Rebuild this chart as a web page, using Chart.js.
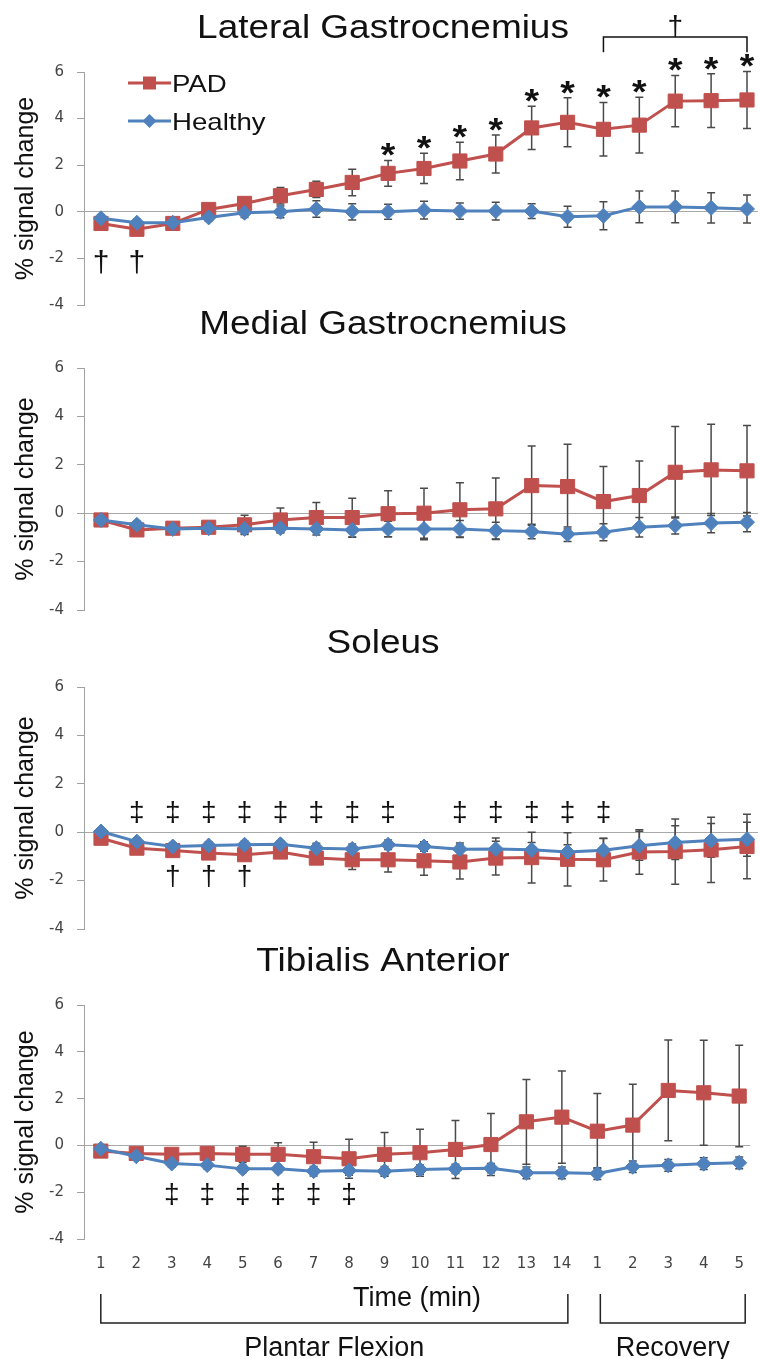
<!DOCTYPE html>
<html>
<head>
<meta charset="utf-8">
<script src="https://cdn.jsdelivr.net/npm/chart.js@4/dist/chart.umd.min.js"></script>
<style>
  html, body { margin: 0; padding: 0; background: #fff; overflow: hidden; }
  #page { position: relative; width: 760px; height: 1359px; }
  #page canvas { position: absolute; left: 0; }
</style>
</head>
<body>
<div id="page">
  <canvas id="lg" width="760" height="340" style="top:0px"></canvas>
  <canvas id="mg" width="760" height="350" style="top:290px"></canvas>
  <canvas id="so" width="760" height="350" style="top:610px"></canvas>
  <canvas id="ta" width="760" height="429" style="top:930px"></canvas>
</div>
<script>
// Categories and ticks
const timeLabels = ['1', '2', '3', '4', '5', '6', '7', '8', '9', '10', '11', '12', '13', '14', '1', '2', '3', '4', '5'];
const phaseNames = ['Plantar Flexion', 'Recovery'];
const phaseLengths = [14, 5];
const seriesNames = ['PAD', 'Healthy'];
const yTicks = [-4, -2, 0, 2, 4, 6];

// Lateral Gastrocnemius
const lgPad = [-0.5, -0.75, -0.5, 0.1, 0.36, 0.69, 0.96, 1.26, 1.65, 1.86, 2.18, 2.48, 3.6, 3.84, 3.54, 3.72, 4.75, 4.77, 4.8];
const lgPadErr = [0.2, 0.2, 0.15, 0.2, 0.25, 0.35, 0.35, 0.57, 0.55, 0.65, 0.8, 0.82, 0.93, 1.05, 1.15, 1.2, 1.1, 1.15, 1.22];
const lgHealthy = [-0.28, -0.47, -0.47, -0.24, -0.04, 0, 0.12, 0, 0, 0.07, 0.03, 0.03, 0.03, -0.21, -0.17, 0.21, 0.21, 0.17, 0.12];
const lgHealthyErr = [0.15, 0.15, 0.15, 0.15, 0.2, 0.25, 0.35, 0.35, 0.32, 0.38, 0.35, 0.38, 0.32, 0.45, 0.6, 0.68, 0.68, 0.65, 0.6];

// Medial Gastrocnemius
const mgPad = [-0.28, -0.69, -0.62, -0.58, -0.48, -0.28, -0.18, -0.18, -0.02, 0.0, 0.14, 0.18, 1.14, 1.1, 0.48, 0.73, 1.69, 1.79, 1.75];
const mgPadErr = [0.15, 0.2, 0.2, 0.2, 0.4, 0.5, 0.62, 0.8, 0.95, 1.03, 1.12, 1.27, 1.64, 1.75, 1.45, 1.43, 1.89, 1.89, 1.87];
const mgHealthy = [-0.28, -0.48, -0.65, -0.62, -0.65, -0.62, -0.65, -0.69, -0.65, -0.65, -0.65, -0.72, -0.76, -0.87, -0.79, -0.58, -0.51, -0.41, -0.37];
const mgHealthyErr = [0.1, 0.15, 0.15, 0.15, 0.2, 0.2, 0.25, 0.3, 0.32, 0.45, 0.35, 0.35, 0.3, 0.3, 0.35, 0.4, 0.35, 0.4, 0.4];

// Soleus
const soPad = [-0.25, -0.66, -0.76, -0.86, -0.93, -0.82, -1.07, -1.14, -1.14, -1.18, -1.23, -1.07, -1.05, -1.12, -1.14, -0.82, -0.8, -0.73, -0.59];
const soPadErr = [0.1, 0.15, 0.15, 0.15, 0.2, 0.2, 0.25, 0.4, 0.5, 0.6, 0.7, 0.7, 1.05, 1.1, 0.88, 0.92, 1.35, 1.35, 1.33];
const soHealthy = [0.03, -0.39, -0.59, -0.55, -0.52, -0.5, -0.66, -0.69, -0.52, -0.59, -0.7, -0.69, -0.73, -0.82, -0.75, -0.56, -0.43, -0.34, -0.29];
const soHealthyErr = [0.1, 0.15, 0.15, 0.15, 0.15, 0.15, 0.2, 0.2, 0.2, 0.2, 0.25, 0.45, 0.3, 0.3, 0.5, 0.6, 0.7, 0.7, 0.7];

// Tibialis Anterior
const taPad = [-0.24, -0.34, -0.38, -0.34, -0.38, -0.38, -0.48, -0.57, -0.38, -0.31, -0.17, 0.04, 1.01, 1.21, 0.61, 0.87, 2.35, 2.25, 2.11];
const taPadErr = [0.1, 0.15, 0.2, 0.25, 0.35, 0.5, 0.62, 0.83, 0.93, 1.0, 1.24, 1.32, 1.81, 1.97, 1.61, 1.74, 2.15, 2.24, 2.17];
const taHealthy = [-0.14, -0.46, -0.77, -0.84, -1.0, -1.0, -1.1, -1.07, -1.1, -1.03, -1.0, -0.97, -1.17, -1.17, -1.2, -0.91, -0.85, -0.78, -0.74];
const taHealthyErr = [0.1, 0.1, 0.15, 0.15, 0.15, 0.15, 0.2, 0.2, 0.2, 0.2, 0.2, 0.2, 0.25, 0.25, 0.25, 0.25, 0.25, 0.25, 0.25];

// Significance marks (indices into timeLabels)
const lgStarIdx = [8, 9, 10, 11, 12, 13, 14, 15, 16, 17, 18];
const lgDaggerIdx = [0, 1];
const lgRecoveryIdx = [14, 18];
const soDoubleDaggerIdx = [1, 2, 3, 4, 5, 6, 7, 8, 10, 11, 12, 13, 14];
const soDaggerIdx = [2, 3, 4];
const taDoubleDaggerIdx = [2, 3, 4, 5, 6, 7];

const RED = '#C0504D';
const BLUE = '#4F81BD';
const BAR = '#4a4a4a';
const INK = '#111';
const SANS = '"Liberation Sans", Arial, sans-serif';

function stretched(ctx, text, x, y, font, sx, align) {
    ctx.save();
    ctx.font = font;
    ctx.fillStyle = INK;
    ctx.textAlign = align;
    ctx.textBaseline = 'alphabetic';
    ctx.translate(x, y);
    ctx.scale(sx, 1);
    ctx.fillText(text, 0, 0);
    ctx.restore();
}

function marker(ctx, style, cx, cy, r) {
    ctx.beginPath();
    if (style === 'rect') {
        ctx.rect(cx - r, cy - r, 2 * r, 2 * r);
    } else {
        ctx.moveTo(cx - r, cy);
        ctx.lineTo(cx, cy - r);
        ctx.lineTo(cx + r, cy);
        ctx.lineTo(cx, cy + r);
        ctx.closePath();
    }
    ctx.fill();
}

// Error bars drawn behind the lines and markers
const errorBars = {
    id: 'errorBars',
    beforeDatasetsDraw(chart) {
        const { ctx, scales: { x, y } } = chart;
        ctx.save();
        ctx.strokeStyle = BAR;
        ctx.lineWidth = 1.5;
        chart.data.datasets.forEach(ds => {
            ds.data.forEach((p, i) => {
                const px = x.getPixelForValue(p.x);
                const top = y.getPixelForValue(p.y + ds.err[i]);
                const bot = y.getPixelForValue(p.y - ds.err[i]);
                ctx.beginPath();
                ctx.moveTo(px, top); ctx.lineTo(px, bot);
                ctx.moveTo(px - 4, top); ctx.lineTo(px + 4, top);
                ctx.moveTo(px - 4, bot); ctx.lineTo(px + 4, bot);
                ctx.stroke();
            });
        });
        ctx.restore();
    }
};

// Titles, legend, significance symbols and brackets
const annotate = {
    id: 'annotate',
    afterDraw(chart, args, o) {
        const { ctx, chartArea: area, scales: { x, y } } = chart;
        const pad = chart.data.datasets[0];

        stretched(ctx, o.title, 383, area.top - 34, '33px ' + SANS, 1.12, 'center');

        if (o.legend) {
            chart.data.datasets.forEach((ds, k) => {
                const cy = area.top + 11 + k * 38;
                ctx.save();
                ctx.strokeStyle = ds.borderColor;
                ctx.fillStyle = ds.borderColor;
                ctx.lineWidth = 3;
                ctx.beginPath();
                ctx.moveTo(area.left + 44, cy);
                ctx.lineTo(area.left + 87, cy);
                ctx.stroke();
                marker(ctx, ds.pointStyle, area.left + 65.5, cy, k === 0 ? 6.5 : 7);
                ctx.restore();
                stretched(ctx, ds.label, area.left + 88, cy + 8.5, '24px ' + SANS, 1.15, 'left');
            });
        }

        (o.stars || []).forEach(i => {
            const top = y.getPixelForValue(pad.data[i].y + pad.err[i]);
            stretched(ctx, '*', x.getPixelForValue(i + 1), top - 14 + 19.7, 'bold 34px ' + SANS, 1.1, 'center');
        });

        (o.symbols || []).forEach(s => {
            s.idx.forEach(i => {
                stretched(ctx, s.text, x.getPixelForValue(i + 1), y.getPixelForValue(s.at) + s.size * 0.3, s.size + 'px ' + SANS, 1, 'center');
            });
        });

        if (o.bracket) {
            const b = o.bracket;
            const x0 = x.getPixelForValue(b.idx[0] + 1);
            const x1 = x.getPixelForValue(b.idx[1] + 1);
            const yl = y.getPixelForValue(b.at);
            const yf = y.getPixelForValue(b.foot);
            ctx.save();
            ctx.strokeStyle = INK;
            ctx.lineWidth = 1.5;
            ctx.beginPath();
            ctx.moveTo(x0, yf); ctx.lineTo(x0, yl); ctx.lineTo(x1, yl); ctx.lineTo(x1, yf);
            ctx.stroke();
            ctx.restore();
            stretched(ctx, b.text, (x0 + x1) / 2, yl - 2, '28px ' + SANS, 1, 'center');
        }

        if (o.phases) {
            let start = 0;
            const yTop = area.bottom + 55;
            const yBot = area.bottom + 84;
            phaseNames.forEach((name, k) => {
                const end = start + phaseLengths[k] - 1;
                const x0 = x.getPixelForValue(start + 1) + (k ? 3 : 0);
                const x1 = x.getPixelForValue(end + 1) + 6;
                ctx.save();
                ctx.strokeStyle = '#222';
                ctx.lineWidth = 1.5;
                ctx.beginPath();
                ctx.moveTo(x0, yTop); ctx.lineTo(x0, yBot); ctx.lineTo(x1, yBot); ctx.lineTo(x1, yTop);
                ctx.stroke();
                ctx.restore();
                stretched(ctx, name, (x0 + x1) / 2, area.bottom + 117, '27px ' + SANS, 1, 'center');
                start = end + 1;
            });
        }
    }
};

function series(label, values, err, color, style, radius, order) {
    return {
        label: label,
        order: order,
        err: err,
        data: values.map((v, i) => ({ x: i + 1, y: v })),
        borderColor: color,
        backgroundColor: color,
        borderWidth: 3,
        pointStyle: style,
        pointRadius: radius,
        pointBorderWidth: 1,
        pointBackgroundColor: color,
        pointBorderColor: color,
        tension: 0,
        clip: false
    };
}

function makePanel(id, title, pad, padErr, healthy, healthyErr, marks, padding, timeAxis) {
    return new Chart(document.getElementById(id), {
        type: 'line',
        data: {
            datasets: [
                series(seriesNames[0], pad, padErr, RED, 'rect', 10, 1),
                series(seriesNames[1], healthy, healthyErr, BLUE, 'rectRot', 7.5, 0)
            ]
        },
        options: {
            responsive: false,
            animation: false,
            events: [],
            layout: { autoPadding: false, padding: Object.assign({ left: 0, right: 2 }, padding) },
            plugins: {
                legend: { display: false },
                tooltip: { enabled: false },
                annotate: Object.assign({ title: title }, marks)
            },
            scales: {
                x: {
                    type: 'linear',
                    min: 1 - 17 / 35.89,
                    max: timeLabels.length + 11 / 35.89,
                    display: timeAxis,
                    afterBuildTicks: s => { s.ticks = timeLabels.map((_, i) => ({ value: i + 1 })); },
                    grid: { display: false, drawTicks: false },
                    border: { display: false },
                    ticks: {
                        autoSkip: false,
                        maxRotation: 0,
                        padding: 16,
                        color: '#444',
                        font: { family: 'DejaVu Sans', size: 15 },
                        callback: (v, i) => timeLabels[i]
                    },
                    title: {
                        display: true,
                        text: 'Time (min)',
                        color: INK,
                        font: { family: 'Liberation Sans', size: 27 },
                        padding: { top: -7, bottom: 0 }
                    }
                },
                y: {
                    min: -4,
                    max: 6,
                    afterBuildTicks: s => { s.ticks = yTicks.map(v => ({ value: v })); },
                    afterFit: s => { s.width = 84; },
                    border: { color: '#a0a0a0', width: 1 },
                    grid: {
                        color: c => (c.tick && c.tick.value === 0 ? '#a8a8a8' : 'rgba(0,0,0,0)'),
                        tickColor: '#a0a0a0',
                        tickLength: 7,
                        lineWidth: 1
                    },
                    ticks: { padding: 13, color: '#444', font: { family: 'DejaVu Sans', size: 15 } },
                    title: {
                        display: true,
                        text: '% signal change',
                        color: INK,
                        font: { family: 'Liberation Sans', size: 25 },
                        padding: { top: 11, bottom: 0 }
                    }
                }
            }
        },
        plugins: [errorBars, annotate]
    });
}

makePanel('lg', 'Lateral Gastrocnemius', lgPad, lgPadErr, lgHealthy, lgHealthyErr, {
    legend: true,
    stars: lgStarIdx,
    symbols: [{ text: '\u2020', idx: lgDaggerIdx, at: -2.2, size: 30 }],
    bracket: { idx: lgRecoveryIdx, at: 7.5, foot: 6.85, text: '\u2020' }
}, { top: 72, bottom: 35 }, false);

makePanel('mg', 'Medial Gastrocnemius', mgPad, mgPadErr, mgHealthy, mgHealthyErr, {}, { top: 78, bottom: 30 }, false);

makePanel('so', 'Soleus', soPad, soPadErr, soHealthy, soHealthyErr, {
    symbols: [
        { text: '\u2021', idx: soDoubleDaggerIdx, at: 0.8, size: 28 },
        { text: '\u2020', idx: soDaggerIdx, at: -1.85, size: 28 }
    ]
}, { top: 77, bottom: 31 }, false);

makePanel('ta', 'Tibialis Anterior', taPad, taPadErr, taHealthy, taHealthyErr, {
    symbols: [{ text: '\u2021', idx: taDoubleDaggerIdx, at: -2.1, size: 28 }],
    phases: true
}, { top: 75, bottom: 44.5 }, true);
</script>
</body>
</html>
